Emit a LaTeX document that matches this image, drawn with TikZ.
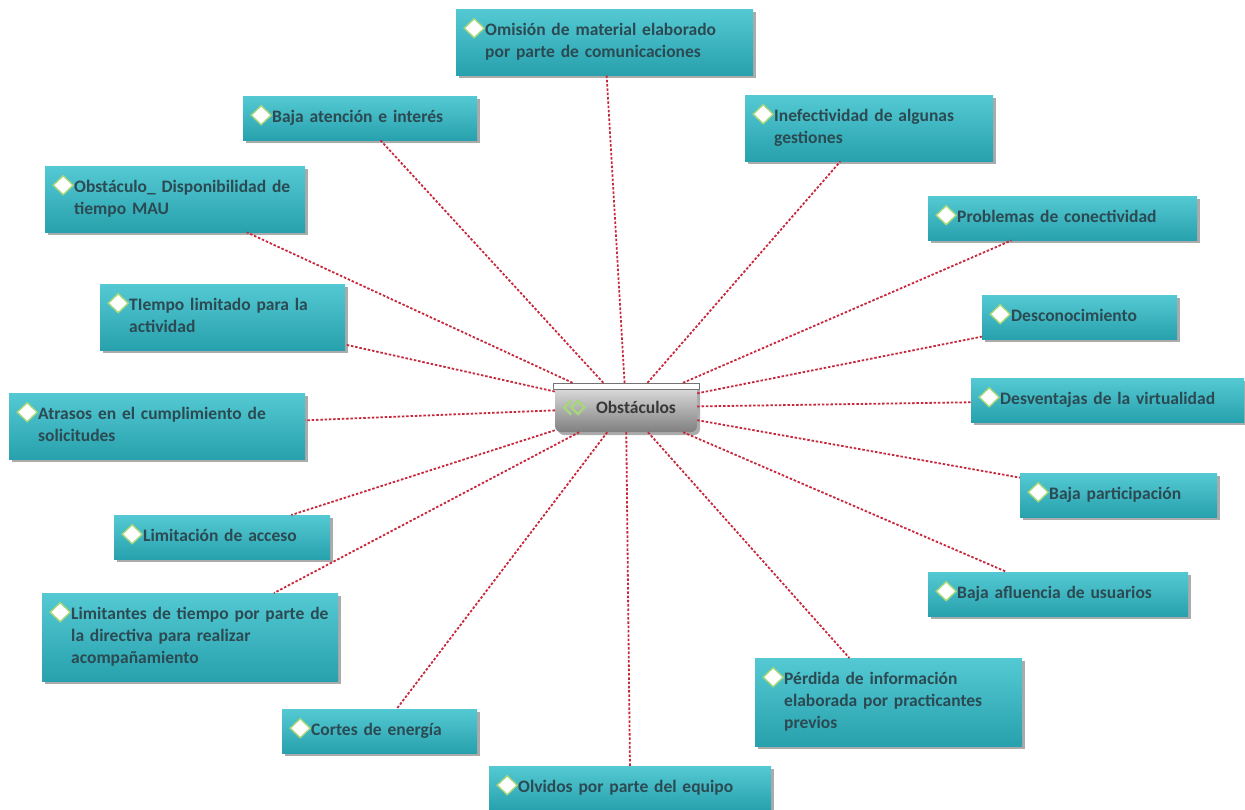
\documentclass[tikz,border=0pt]{standalone}
\usepackage{fontspec}
\setmainfont{Carlito}
\usetikzlibrary{shadows}
\definecolor{tealtop}{HTML}{54C9D3}
\definecolor{tealbot}{HTML}{27A1AD}
\definecolor{boxtext}{HTML}{2B4A52}
\definecolor{gemgreen}{HTML}{A6D77A}
\definecolor{linkred}{HTML}{C8283C}
\begin{document}
\begin{tikzpicture}[x=1pt,y=-1pt,
    box/.style={anchor=north west, rectangle, top color=tealtop, bottom color=tealbot,
        text=boxtext, font=\fontsize{17.5}{22}\selectfont\bfseries,
        text width=#1pt-8pt, align=left, inner xsep=4pt, inner ysep=11pt,
        execute at begin node={\leftskip=25pt\strut}, execute at end node={\strut},
        drop shadow={shadow xshift=3pt, shadow yshift=-3pt, fill=black!55, opacity=.6},
        path picture={\path[fill=white, draw=gemgreen, line width=1.4pt]
            ([shift={(18pt,-19pt)}]path picture bounding box.north west)
            +(-10,0) -- +(0,-9.5) -- +(10,0) -- +(0,9.5) -- cycle;}},
    hub/.style={rectangle, minimum width=142pt, minimum height=49pt, inner sep=0pt,
        top color=black!10, bottom color=black!50, rounded corners=6pt,
        text=black!78, font=\fontsize{17.5}{22}\selectfont\bfseries,
        drop shadow={shadow xshift=3pt, shadow yshift=-3pt, fill=black!55, opacity=.6},
        path picture={
            \path[draw=gemgreen, line width=2.4pt, sharp corners]
                ([shift={(9pt,0pt)}]path picture bounding box.west)
                +(7,-7) -- +(0,0) -- +(7,7);
            \path[draw=gemgreen, line width=2.4pt, sharp corners]
                ([shift={(23pt,0pt)}]path picture bounding box.west)
                +(-6.5,0) -- +(0,-6.5) -- +(6.5,0) -- +(0,6.5) -- cycle;}},
    link/.style={draw=linkred, line width=1.8pt, dash pattern=on 2.5pt off 1.8pt}]

    \useasboundingbox (0,0) rectangle (1245,809);

    \node[box=297] (omision) at (456,9) {Omisión de material elaborado\\ por parte de comunicaciones};
    \node[box=234] (atencion) at (243,96) {Baja atención e interés};
    \node[box=248] (inefectividad) at (745,95) {Inefectividad de algunas\\ gestiones};
    \node[box=260] (disponibilidad) at (45,166) {Obstáculo\_ Disponibilidad de\\ tiempo MAU};
    \node[box=269] (conectividad) at (928,196) {Problemas de conectividad};
    \node[box=245] (tiempo) at (100,284) {TIempo limitado para la\\ actividad};
    \node[box=195] (desconocimiento) at (982,295) {Desconocimiento};
    \node[box=296] (atrasos) at (9,393) {Atrasos en el cumplimiento de\\ solicitudes};
    \node[box=273] (virtualidad) at (971,378) {Desventajas de la virtualidad};
    \node[box=197] (participacion) at (1020,473) {Baja participación};
    \node[box=216] (acceso) at (114,515) {Limitación de acceso};
    \node[box=260] (afluencia) at (928,572) {Baja afluencia de usuarios};
    \node[box=296] (limitantes) at (42,593) {Limitantes de tiempo por parte de\\ la directiva para realizar\\ acompañamiento};
    \node[box=267] (perdida) at (755,658) {Pérdida de información\\ elaborada por practicantes\\ previos};
    \node[box=195] (cortes) at (282,709) {Cortes de energía};
    \node[box=282] (olvidos) at (489,766) {Olvidos por parte del equipo};

    \node[hub] (obstaculos) at (626,407.5) {\hspace*{20pt}Obstáculos};
    \path[draw=black!55, fill=white] ([xshift=-2pt]obstaculos.north west)
        rectangle ([xshift=2pt,yshift=-6pt]obstaculos.north east);

    \foreach \n in {omision,atencion,inefectividad,disponibilidad,conectividad,tiempo,
        desconocimiento,atrasos,virtualidad,participacion,acceso,afluencia,limitantes,
        perdida,cortes,olvidos}
        \path[link] (obstaculos) -- (\n);

\end{tikzpicture}
\end{document}
